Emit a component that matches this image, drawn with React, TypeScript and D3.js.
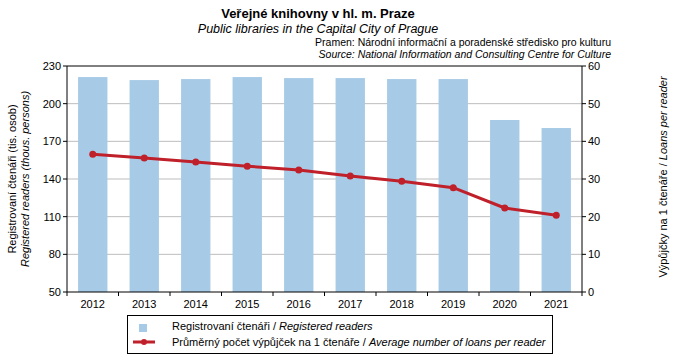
import React from "react";
import * as d3 from "d3";

const years = ["2012","2013","2014","2015","2016","2017","2018","2019","2020","2021"];
const readers = [221.2, 218.8, 219.6, 221.2, 220.4, 220.4, 219.6, 219.6, 187.0, 180.6];
const loans = [36.6, 35.6, 34.5, 33.4, 32.4, 30.8, 29.4, 27.7, 22.3, 20.4];
const leftTicks = [50, 80, 110, 140, 170, 200, 230];
const rightTicks = [0, 10, 20, 30, 40, 50, 60];

const W = 676, H = 360;
const L = 67, R = 582, T = 66, B = 292;
const BAR = "#a7cbe6", LINE = "#c0202a";
const FONT = "'Liberation Sans', Arial, sans-serif";

export default function App() {
  const x = d3.scaleBand().domain(years).range([L, R]).paddingInner(0.43).paddingOuter(0.215);
  const yl = d3.scaleLinear().domain([50, 230]).range([B, T]);
  const yr = d3.scaleLinear().domain([0, 60]).range([B, T]);
  const step = (R - L) / years.length;
  const line = d3.line<number>().x((_, i) => x(years[i])! + x.bandwidth() / 2).y(d => yr(d));
  return (
    <svg width={W} height={H} style={{ position: "absolute", left: 0, top: 0, fontFamily: FONT }}>
      <rect width={W} height={H} fill="#fff" />
      <text x={318} y={18} textAnchor="middle" fontSize={13} fontWeight="bold">Veřejné knihovny v hl. m. Praze</text>
      <text x={318} y={33} textAnchor="middle" fontSize={12.5} fontStyle="italic">Public libraries in the Capital City of Prague</text>
      <text x={611} y={46} textAnchor="end" fontSize={10.5}>Pramen: Národní informační a poradenské středisko pro kulturu</text>
      <text x={611} y={57.5} textAnchor="end" fontSize={10.5} fontStyle="italic">Source: National Information and Consulting Centre for Culture</text>
      {leftTicks.slice(1, -1).map(t => (
        <line key={t} x1={L} x2={R} y1={yl(t)} y2={yl(t)} stroke="#bdbdbd" />
      ))}
      {years.map((yv, i) => (
        <rect key={yv} x={x(yv)} y={yl(readers[i])} width={x.bandwidth()} height={B - yl(readers[i])} fill={BAR} />
      ))}
      <line x1={L} x2={R} y1={T} y2={T} stroke="#000" />
      <line x1={L} x2={L} y1={T} y2={B} stroke="#000" />
      <line x1={R} x2={R} y1={T} y2={B} stroke="#000" />
      <line x1={L} x2={R} y1={B} y2={B} stroke="#000" />
      {leftTicks.map(t => (
        <g key={t}>
          <line x1={L - 4} x2={L} y1={yl(t)} y2={yl(t)} stroke="#000" />
          <text x={L - 6} y={yl(t) + 4} textAnchor="end" fontSize={11}>{t}</text>
        </g>
      ))}
      {rightTicks.map(t => (
        <g key={t}>
          <line x1={R} x2={R + 4} y1={yr(t)} y2={yr(t)} stroke="#000" />
          <text x={R + 6} y={yr(t) + 4} textAnchor="start" fontSize={11}>{t}</text>
        </g>
      ))}
      {d3.range(years.length + 1).map(i => (
        <line key={i} x1={L + i * step} x2={L + i * step} y1={B} y2={B + 4} stroke="#000" />
      ))}
      {years.map(yv => (
        <text key={yv} x={x(yv)! + x.bandwidth() / 2} y={308} textAnchor="middle" fontSize={11}>{yv}</text>
      ))}
      <path d={line(loans)!} fill="none" stroke={LINE} strokeWidth={3} strokeLinejoin="round" />
      {loans.map((v, i) => (
        <circle key={i} cx={x(years[i])! + x.bandwidth() / 2} cy={yr(v)} r={3.5} fill={LINE} />
      ))}
      <g transform={`translate(16,${(T + B) / 2}) rotate(-90)`}>
        <text textAnchor="middle" fontSize={11}>Registrovaní čtenáři (tis. osob)</text>
      </g>
      <g transform={`translate(29,${(T + B) / 2}) rotate(-90)`}>
        <text textAnchor="middle" fontSize={11} fontStyle="italic">Registered readers (thous. persons)</text>
      </g>
      <g transform={`translate(667,${(T + B) / 2 - 2}) rotate(-90)`}>
        <text textAnchor="middle" fontSize={11}>Výpůjčky na 1 čtenáře / <tspan fontStyle="italic">Loans per reader</tspan></text>
      </g>
      <rect x={127.5} y={315.5} width={425} height={38} fill="none" stroke="#000" />
      <rect x={139} y={324} width={8} height={8} fill={BAR} />
      <text x={172} y={330} fontSize={11}>Registrovaní čtenáři / <tspan fontStyle="italic">Registered readers</tspan></text>
      <line x1={133} x2={155} y1={342} y2={342} stroke={LINE} strokeWidth={3} />
      <circle cx={144} cy={342} r={3} fill={LINE} />
      <text x={172} y={346} fontSize={11}>Průměrný počet výpůjček na 1 čtenáře / <tspan fontStyle="italic">Average number of loans per reader</tspan></text>
    </svg>
  );
}
